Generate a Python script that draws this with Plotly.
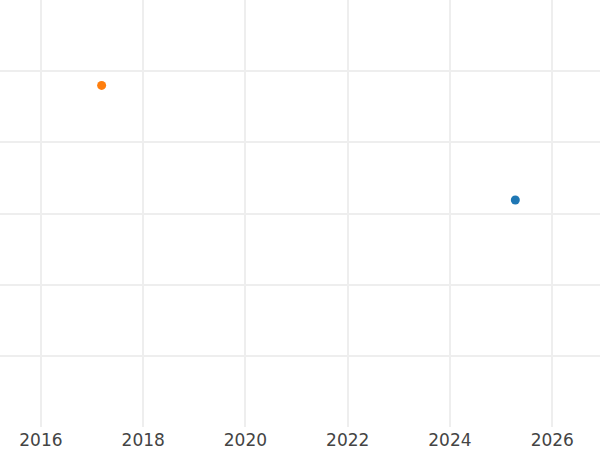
import plotly.graph_objects as go

# Two series, one point each
series_names = ["Series A", "Series B"]
series_dates = [["2025-04-12"], ["2017-03-10"]]
series_values = [[3.19], [4.80]]
series_colors = ["#1f77b4", "#ff7f0e"]

x_ticks = ["2016-01-01", "2018-01-01", "2020-01-01", "2022-01-01", "2024-01-01", "2026-01-01"]
x_labels = ["2016", "2018", "2020", "2022", "2024", "2026"]

fig = go.Figure()
for name, xs, ys, color in zip(series_names, series_dates, series_values, series_colors):
    fig.add_trace(go.Scatter(
        x=xs, y=ys, mode="markers", name=name,
        marker=dict(color=color, size=9),
    ))

fig.update_xaxes(
    type="date",
    range=["2015-03-15", "2026-12-08"],
    tickvals=x_ticks,
    ticktext=x_labels,
    showgrid=True,
    gridcolor="#eeeeee",
    gridwidth=1.5,
    zeroline=False,
    showline=False,
    automargin=False,
    ticklabelstandoff=1,
    tickfont=dict(size=17, color="#444444"),
)
fig.update_yaxes(
    range=[0, 6],
    dtick=1,
    showticklabels=False,
    showgrid=True,
    gridcolor="#eeeeee",
    gridwidth=1.5,
    zeroline=False,
    showline=False,
    automargin=False,
)
fig.update_layout(
    width=600,
    height=450,
    margin=dict(l=0, r=0, t=0, b=23),
    showlegend=False,
    plot_bgcolor="white",
    paper_bgcolor="white",
    font=dict(family="DejaVu Sans"),
)

# drop the page's default body margin so the plot sits flush with the window
fig.write_html("out.html", config={"displayModeBar": False},
               post_script="document.body.style.margin='0';")
